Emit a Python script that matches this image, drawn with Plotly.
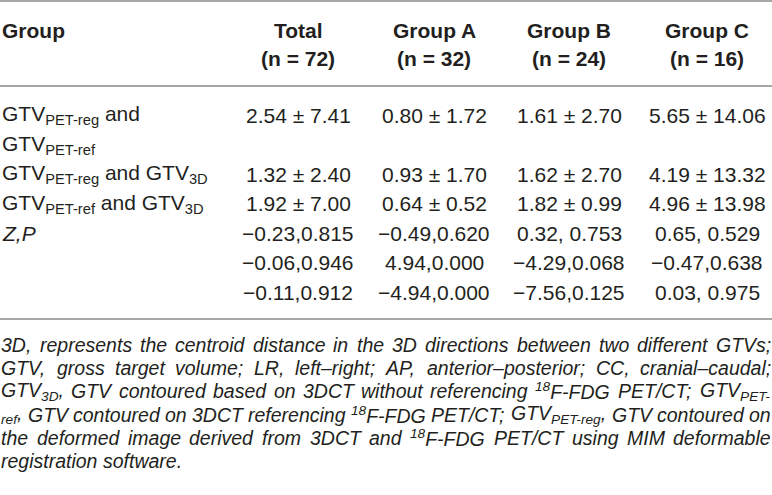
import re
import plotly.graph_objects as go

# Table content
col_names = ["Total", "Group A", "Group B", "Group C"]
col_sizes = ["(n = 72)", "(n = 32)", "(n = 24)", "(n = 16)"]
row_labels = [
    "GTV<sub>PET-reg</sub> and<br>GTV<sub>PET-ref</sub>",
    "GTV<sub>PET-reg</sub> and GTV<sub>3D</sub>",
    "GTV<sub>PET-ref</sub> and GTV<sub>3D</sub>",
    "<i>Z,P</i>",
    "",
    "",
]
total = ["2.54 ± 7.41", "1.32 ± 2.40", "1.92 ± 7.00", "−0.23,0.815", "−0.06,0.946", "−0.11,0.912"]
group_a = ["0.80 ± 1.72", "0.93 ± 1.70", "0.64 ± 0.52", "−0.49,0.620", "4.94,0.000", "−4.94,0.000"]
group_b = ["1.61 ± 2.70", "1.62 ± 2.70", "1.82 ± 0.99", "0.32, 0.753", "−4.29,0.068", "−7.56,0.125"]
group_c = ["5.65 ± 14.06", "4.19 ± 13.32", "4.96 ± 13.98", "0.65, 0.529", "−0.47,0.638", "0.03, 0.975"]

footnote = [
    "3D, represents the centroid distance in the 3D directions between two different GTVs;",
    "GTV, gross target volume; LR, left–right; AP, anterior–posterior; CC, cranial–caudal;",
    "GTV<sub>3D</sub>, GTV contoured based on 3DCT without referencing <sup>18</sup>F-FDG PET/CT; GTV<sub>PET-</sub>",
    "<sub>ref</sub>, GTV contoured on 3DCT referencing <sup>18</sup>F-FDG PET/CT; GTV<sub>PET-reg</sub>, GTV contoured on",
    "the deformed image derived from 3DCT and <sup>18</sup>F-FDG PET/CT using MIM deformable",
    "registration software.",
]

W, H = 772, 495
TXT = "#231f20"
RULE = "#a7a7a7"
col_x = [298, 434, 569, 707]
line_step = 29.5
first_line = 115
BODY_SIZE = 21
HEAD_SIZE = 21
FOOT_SIZE = 19.5

# Arial / Liberation Sans advance widths (1/1000 em), used to justify the footnote
_w = {" ": 278, ",": 278, ";": 278, ".": 278, "-": 333, "–": 556, "/": 278, "0": 556,
      "1": 556, "2": 556, "3": 556, "4": 556, "5": 556, "6": 556, "7": 556, "8": 556, "9": 556,
      "A": 667, "B": 667, "C": 722, "D": 722, "E": 667, "F": 611, "G": 778, "H": 722, "I": 278,
      "J": 500, "K": 667, "L": 556, "M": 833, "N": 722, "O": 778, "P": 667, "Q": 778, "R": 722,
      "S": 667, "T": 611, "U": 722, "V": 667, "W": 944, "X": 667, "Y": 667, "Z": 611,
      "a": 556, "b": 556, "c": 500, "d": 556, "e": 556, "f": 278, "g": 556, "h": 556, "i": 222,
      "j": 222, "k": 500, "l": 222, "m": 833, "n": 556, "o": 556, "p": 556, "q": 556, "r": 333,
      "s": 500, "t": 278, "u": 556, "v": 500, "w": 722, "x": 500, "y": 500, "z": 500}


def word_width(word, size):
    total_w = 0
    for part in re.split(r"(<su[bp]>.*?</su[bp]>)", word):
        scale = 0.7 if part.startswith("<su") else 1.0
        plain = re.sub(r"<[^>]+>", "", part)
        total_w += scale * sum(_w.get(c, 556) for c in plain)
    return total_w * size / 1000


fig = go.Figure()
ann = []


def add(text, x, y, size=BODY_SIZE, bold=False, anchor="center", family="Liberation Sans"):
    ann.append(dict(
        text=f"<b>{text}</b>" if bold else text,
        x=x, y=y, xref="x", yref="y", showarrow=False,
        xanchor=anchor, yanchor="middle", borderpad=0,
        font=dict(family=family, size=size, color=TXT),
    ))


# header
add("Group", 1, 30, size=HEAD_SIZE, bold=True, anchor="left")
for cx, name, n in zip(col_x, col_names, col_sizes):
    add(name, cx, 30, size=HEAD_SIZE, bold=True)
    add(n, cx, 58, size=HEAD_SIZE, bold=True)

# body
line = 0
for i, lab in enumerate(row_labels):
    y = first_line + line * line_step
    parts = lab.split("<br>")
    for k, p in enumerate(parts):
        if p:
            add(p, 1, y + k * line_step, anchor="left")
    for cx, col in zip(col_x, [total, group_a, group_b, group_c]):
        add(col[i], cx, y)
    line += len(parts)

# rules
for yy in [1, 86, 319]:
    fig.add_shape(type="line", x0=0, x1=W, y0=yy, y1=yy, xref="x", yref="y",
                  line=dict(color=RULE, width=2))

# footnote, justified word by word (last line left aligned)
left, right = 0, 770
for k, t in enumerate(footnote):
    y = 345 + k * 23.2
    words = t.split(" ")
    widths = [word_width(wd, FOOT_SIZE) for wd in words]
    if k < len(footnote) - 1 and len(words) > 1:
        gap = (right - left - sum(widths)) / (len(words) - 1)
    else:
        gap = _w[" "] * FOOT_SIZE / 1000
    x = left
    for wd, ww in zip(words, widths):
        add(f"<i>{wd}</i>", x, y, size=FOOT_SIZE, anchor="left")
        x += ww + gap

fig.update_layout(
    width=W, height=H,
    margin=dict(l=0, r=0, t=0, b=0),
    paper_bgcolor="white", plot_bgcolor="white",
    annotations=ann, showlegend=False,
)
fig.update_xaxes(range=[0, W], visible=False, fixedrange=True)
fig.update_yaxes(range=[H, 0], visible=False, fixedrange=True)

fig.write_html("out.html", config={"displayModeBar": False},
               post_script="document.body.style.margin='0';")
